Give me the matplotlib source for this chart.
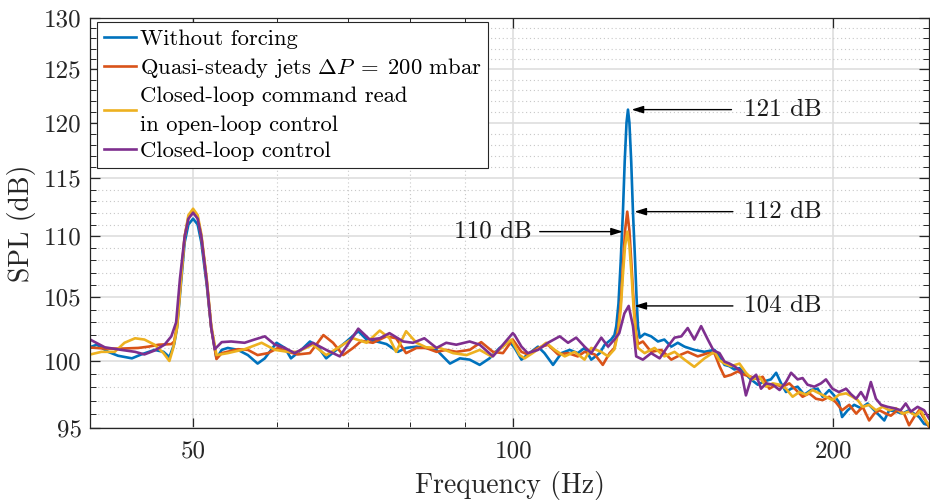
import matplotlib
matplotlib.use("Agg")
import matplotlib.pyplot as plt
from matplotlib.ticker import FixedLocator, NullFormatter, FixedFormatter

plt.rcParams["font.family"] = "serif"
plt.rcParams["font.serif"] = ["cmr10"]
plt.rcParams["mathtext.fontset"] = "cm"
plt.rcParams["axes.formatter.use_mathtext"] = True

# ---- spectra (frequency in Hz, SPL in dB) ----
f_blue = [39.8, 40.6, 41.6, 42.5, 43.8, 44.7, 46.0, 46.9, 47.5, 48.0, 48.3, 48.7, 49.1, 49.5, 50.0,
          50.5, 50.9, 51.5, 52.0, 52.6, 53.2, 53.9, 55.1, 56.3, 57.5, 58.4, 59.9, 61.0, 61.8, 63.2,
          64.4, 65.5, 66.7, 68.2, 69.7, 71.5, 72.8, 74.4, 76.0, 77.9, 79.3, 81.1, 82.8, 84.7, 87.2,
          89.1, 91.0, 93.0, 95.0, 97.1, 99.2, 100.3, 101.8, 103.2, 105.5, 107.0, 109.0, 111.0, 113.0,
          115.0, 116.7, 118.4, 120.6, 121.9, 123.6, 124.5, 125.0, 125.6, 126.2, 126.8, 127.3, 127.8,
          128.2, 128.6, 129.1, 129.6, 130.2, 130.6, 131.0, 131.5, 132.9, 134.8, 136.8, 138.7, 140.8,
          142.8, 144.9, 148.0, 151.3, 154.6, 156.3, 158.0, 159.7, 161.4, 163.2, 164.9, 167.3, 169.8,
          172.2, 174.7, 176.7, 178.6, 180.5, 182.5, 185.1, 187.8, 190.5, 193.3, 195.4, 198.2, 200.3,
          202.4, 203.8, 206.3, 209.2, 212.3, 215.4, 218.5, 221.7, 223.3, 225.7, 229.0, 232.3, 235.6,
          238.2, 240.8, 243.4, 246.0]
spl_blue = [101.0, 101.25, 100.7, 100.4, 100.2, 100.5, 100.85, 100.7, 100.3, 101.3, 102.6, 106.0, 109.5, 111.0, 111.5,
            111.0, 109.5, 106.0, 102.6, 100.2, 100.85, 101.0, 100.85, 100.45, 99.8, 100.2, 101.4, 101.0, 100.2, 100.85,
            101.5, 101.1, 100.2, 100.85, 101.5, 102.3, 101.65, 101.5, 101.3, 100.7, 101.0, 101.1, 101.0, 100.85, 99.8,
            100.2, 100.1, 99.7, 100.2, 101.0, 101.5, 101.0, 100.1, 100.5, 101.1, 100.6, 99.7, 100.6, 100.85,
            100.6, 101.0, 100.1, 100.6, 101.25, 101.65, 102.0, 102.7, 104.5, 107.9, 112.0, 116.5, 120.0,
            121.2, 120.0, 116.5, 112.0, 107.9, 105.0, 102.7, 101.8, 102.1, 101.9, 101.5, 101.65, 101.1,
            101.4, 101.1, 100.85, 100.7, 100.85, 100.3, 99.7, 99.6, 99.35, 99.45, 99.1, 98.6, 98.2,
            98.45, 98.6, 99.1, 98.3, 97.65, 97.9, 98.05, 97.45, 97.8, 97.9, 97.3, 97.8, 97.4,
            96.9, 95.8, 96.3, 96.7, 96.45, 96.8, 96.3, 95.8, 95.55, 96.3, 96.2, 96.05, 96.3,
            96.05, 95.8, 95.3, 95.2]

f_red = [39.8, 41.3, 42.8, 44.4, 45.4, 46.4, 47.7, 48.0, 48.3, 48.7, 49.1, 49.5, 50.0, 50.5, 50.9,
         51.5, 52.0, 52.6, 53.2, 55.1, 56.3, 57.5, 58.8, 60.1, 61.4, 62.7, 64.4, 66.3, 67.7, 69.2,
         70.7, 72.0, 73.8, 76.0, 77.6, 79.3, 81.1, 82.8, 84.7, 86.5, 88.4, 91.0, 93.3, 95.7, 97.8,
         99.9, 101.8, 103.2, 105.5, 107.8, 110.2, 112.6, 115.0, 116.7, 119.3, 121.4, 123.2, 124.5,
         125.5, 126.2, 126.8, 127.4, 128.0, 128.6, 129.2, 129.8, 130.4, 131.0, 132.4, 134.8, 137.8,
         140.8, 143.9, 145.9, 149.1, 152.4, 154.6, 156.3, 158.0, 160.3, 162.6, 164.9, 167.3, 169.8,
         171.6, 174.1, 176.7, 179.2, 181.8, 184.5, 187.1, 189.8, 192.6, 195.4, 198.2, 201.0, 203.8,
         207.0, 210.1, 213.1, 216.1, 218.5, 220.9, 224.1, 226.5, 229.8, 233.1, 235.6, 238.2, 240.8,
         243.4, 246.0]
spl_red = [101.05, 100.95, 100.95, 101.0, 101.1, 101.25, 101.3, 101.5, 102.8, 106.5, 110.0, 111.6, 112.1, 111.6, 110.0,
           106.3, 102.6, 100.15, 100.6, 100.9, 100.85, 100.45, 100.6, 101.0, 100.7, 100.5, 100.6, 102.0, 101.4, 100.45,
           101.0, 101.55, 101.4, 101.9, 101.75, 100.6, 101.0, 101.0, 100.7, 100.85, 100.7, 100.85, 101.45, 100.7, 100.6,
           101.65, 100.7, 100.5, 101.0, 101.25, 100.5, 100.6, 100.35, 100.7, 100.5, 99.7, 100.6, 101.0,
           102.5, 104.5, 107.5, 110.5, 112.1, 110.5, 107.5, 104.5, 102.3, 101.3, 101.5, 100.7, 100.85,
           100.1, 100.5, 100.7, 100.35, 100.6, 100.6, 99.6, 98.8, 98.95, 99.2, 98.95, 98.8, 98.6,
           98.8, 97.9, 98.2, 98.05, 98.3, 97.8, 97.3, 97.55, 97.15, 97.05, 97.3, 96.9, 96.3,
           96.7, 96.05, 96.55, 95.55, 96.05, 96.3, 96.05, 95.9, 96.3, 96.05, 95.2, 95.8, 96.3,
           95.7, 95.1]

f_yellow = [39.8, 41.0, 42.2, 43.1, 44.1, 45.0, 46.0, 46.9, 47.5, 47.9, 48.3, 48.7, 49.1, 49.5, 50.0,
            50.5, 50.9, 51.5, 52.0, 52.6, 53.9, 55.9, 58.0, 59.7, 61.4, 62.7, 64.8, 66.7, 68.7, 70.7,
            72.8, 74.9, 76.5, 77.6, 79.3, 81.1, 82.8, 85.3, 87.8, 90.4, 93.0, 95.4, 97.8, 99.6, 101.4,
            102.5, 104.7, 107.4, 109.4, 111.8, 114.2, 116.7, 118.4, 121.0, 122.8, 124.5, 125.5, 126.2,
            126.8, 127.4, 128.0, 128.6, 129.2, 129.8, 130.4, 131.0, 132.9, 135.8, 138.7, 141.8, 144.9,
            148.0, 151.3, 154.6, 156.3, 158.0, 160.3, 163.2, 165.5, 167.9, 170.4, 172.9, 175.4, 178.0,
            180.5, 183.1, 185.8, 188.5, 191.2, 194.0, 196.8, 199.6, 202.4, 205.6, 208.4, 210.8, 213.1,
            216.1, 219.3, 222.5, 225.7, 229.0, 232.3, 235.6, 239.1, 241.7, 244.3, 246.0]
spl_yellow = [100.45, 100.7, 100.7, 101.4, 101.75, 101.65, 101.25, 100.6, 100.0, 101.0, 102.6, 106.3, 110.0, 111.8, 112.35,
              111.8, 110.2, 106.5, 102.8, 100.45, 100.6, 100.9, 101.4, 100.85, 100.7, 100.7, 101.25, 100.45, 101.1, 101.75,
              101.4, 102.35, 101.75, 100.7, 102.3, 101.4, 101.05, 101.0, 100.6, 100.45, 100.85, 100.35, 101.1, 101.65, 100.45,
              100.2, 100.7, 101.4, 100.85, 100.35, 100.7, 100.1, 101.0, 100.7, 100.35, 100.9, 102.2, 104.0,
              106.8, 109.2, 110.4, 109.2, 106.8, 104.0, 102.0, 101.0, 100.6, 101.0, 100.35, 100.7, 100.1,
              99.55, 100.2, 100.7, 100.05, 99.8, 99.6, 99.8, 99.1, 98.6, 98.8, 98.05, 98.3, 98.2,
              97.9, 97.3, 97.65, 97.45, 97.8, 97.55, 97.3, 97.05, 97.45, 97.55, 97.3, 97.05, 96.55,
              96.7, 96.3, 96.55, 96.3, 96.45, 96.05, 96.2, 95.9, 96.3, 95.55, 95.2]

f_purple = [39.8, 41.3, 42.8, 44.1, 45.0, 46.0, 47.0, 47.7, 48.2, 48.6, 49.1, 49.5, 50.0, 50.5, 50.9,
            51.5, 52.0, 52.4, 53.2, 54.3, 55.9, 57.1, 58.4, 59.7, 61.0, 62.3, 63.6, 64.8, 66.7, 68.7,
            70.2, 71.5, 73.3, 74.9, 76.5, 78.8, 80.5, 82.5, 84.7, 86.5, 88.4, 91.0, 93.0, 95.7, 97.8,
            99.9, 100.3, 101.8, 103.2, 105.5, 107.8, 110.6, 112.6, 114.6, 116.7, 118.4, 121.0, 122.8,
            124.5, 125.8, 127.2, 128.4, 129.6, 130.5, 132.4, 134.8, 137.3, 139.7, 141.8, 143.9, 145.9,
            148.0, 150.2, 152.4, 154.3, 156.3, 158.0, 159.7, 161.4, 163.8, 165.5, 167.3, 169.2, 171.0,
            172.9, 175.4, 178.0, 180.5, 182.5, 185.1, 187.1, 189.1, 191.9, 194.7, 196.8, 199.6, 202.4,
            205.6, 207.7, 210.1, 212.3, 214.6, 216.9, 219.3, 221.7, 224.9, 228.1, 231.4, 233.9, 236.5,
            240.0, 243.4, 246.0]
spl_purple = [101.75, 101.05, 100.85, 100.7, 100.5, 100.8, 101.25, 101.9, 103.0, 106.5, 110.0, 111.5, 112.0, 111.5, 110.0,
              106.3, 102.6, 100.9, 101.45, 101.5, 101.4, 101.65, 101.9, 101.25, 101.0, 100.6, 101.0, 101.4, 100.85, 100.35,
              101.5, 102.5, 101.65, 101.75, 102.15, 101.5, 101.4, 101.75, 101.0, 101.4, 101.25, 101.5, 101.25, 100.35, 101.25,
              102.15, 102.0, 101.1, 100.6, 100.85, 101.4, 101.9, 101.4, 101.8, 101.1, 100.6, 101.8, 101.1,
              101.65, 102.15, 103.7, 104.3, 102.7, 100.35, 100.1, 100.6, 100.2, 101.1, 101.8, 101.9, 102.55,
              101.65, 102.7, 101.65, 100.8, 100.6, 99.95, 99.8, 99.6, 99.2, 97.4, 98.6, 98.95, 97.9,
              98.3, 98.2, 97.8, 98.4, 99.1, 98.6, 98.7, 98.2, 98.05, 98.3, 98.6, 97.9, 97.65,
              97.9, 97.5, 97.15, 97.65, 97.05, 98.4, 97.15, 96.7, 96.55, 96.45, 96.3, 96.8, 96.2,
              96.55, 96.3, 95.7]

labels = ["Without forcing",
          r"Quasi-steady jets $\Delta P\;=\;200$ mbar",
          "Closed-loop command read\nin open-loop control",
          "Closed-loop control"]
colors = ["#0072BD", "#D95319", "#EDB120", "#7E2F8E"]

x_major = [50, 100, 200]
x_minor = [40, 60, 70, 80, 90]
y_major = [95, 100, 105, 110, 115, 120, 125, 130]
y_minor = [v for v in range(96, 130) if v % 5 != 0]

# peak levels of the 128 Hz tone
peak_blue, peak_red, peak_yellow, peak_purple = 121.2, 112.1, 110.4, 104.3

fig = plt.figure(figsize=(9.3, 5.0), dpi=100)
ax = fig.add_axes([90 / 930, 72 / 500, 839 / 930, 410 / 500])

series = [(f_blue, spl_blue), (f_red, spl_red), (f_yellow, spl_yellow), (f_purple, spl_purple)]
for (f, s), lab, c in zip(series, labels, colors):
    ax.plot(f, s, color=c, lw=1.9, label=lab, solid_joinstyle="round")

ax.set_xscale("log")
ax.set_yscale("log")
ax.set_xlim(40, 246)
ax.set_ylim(95, 130)

ax.xaxis.set_major_locator(FixedLocator(x_major))
ax.xaxis.set_major_formatter(FixedFormatter([str(v) for v in x_major]))
ax.xaxis.set_minor_locator(FixedLocator(x_minor))
ax.xaxis.set_minor_formatter(NullFormatter())
ax.yaxis.set_major_locator(FixedLocator(y_major))
ax.yaxis.set_major_formatter(FixedFormatter([str(v) for v in y_major]))
ax.yaxis.set_minor_locator(FixedLocator(y_minor))
ax.yaxis.set_minor_formatter(NullFormatter())

ax.grid(True, which="major", color="#dedede", lw=1.2, ls="-")
ax.grid(True, which="minor", color="#c8c8c8", lw=0.8, ls=(0, (1, 2.5)))
ax.set_axisbelow(True)

for sp in ax.spines.values():
    sp.set_color("#262626")
    sp.set_linewidth(0.9)
ax.tick_params(which="both", direction="in", top=True, right=True, color="#262626",
               labelsize=18, labelcolor="#262626")
ax.tick_params(which="major", length=7, width=0.9)
ax.tick_params(which="minor", length=4, width=0.7)
ax.tick_params(axis="x", which="both", pad=9)
ax.tick_params(axis="y", which="both", pad=6)

ax.set_xlabel("Frequency (Hz)", fontsize=20, color="#262626", labelpad=6)
ax.set_ylabel("SPL (dB)", fontsize=20, color="#262626", labelpad=6)

leg = ax.legend(loc="upper left", bbox_to_anchor=(0.008, 0.99), borderaxespad=0,
                fontsize=16.3, frameon=True, fancybox=False, framealpha=1,
                edgecolor="#262626", handlelength=1.45, handletextpad=0.15,
                borderpad=0.3, labelspacing=0.3)
leg.get_frame().set_linewidth(0.8)
for t in leg.get_texts():
    t.set_linespacing(1.6)

arrow_kw = dict(arrowstyle="-|>,head_length=0.7,head_width=0.22", color="black", lw=1.0,
                shrinkA=0, shrinkB=0)
for val, tip_f, tail_f in [(peak_blue, 129.2, 160.4),
                           (peak_red, 130.0, 160.9),
                           (peak_purple, 130.0, 160.9)]:
    ax.annotate("", xy=(tip_f, val), xytext=(tail_f, val), arrowprops=arrow_kw)
    ax.text(164.8, val, f"{val:.0f} dB", fontsize=18, ha="left", va="center", color="#1a1a1a")

ax.annotate("", xy=(126.8, peak_yellow), xytext=(105.9, peak_yellow), arrowprops=arrow_kw)
ax.text(104.0, peak_yellow, f"{peak_yellow:.0f} dB", fontsize=18, ha="right", va="center",
        color="#1a1a1a")

fig.savefig("out.png", dpi=100)
